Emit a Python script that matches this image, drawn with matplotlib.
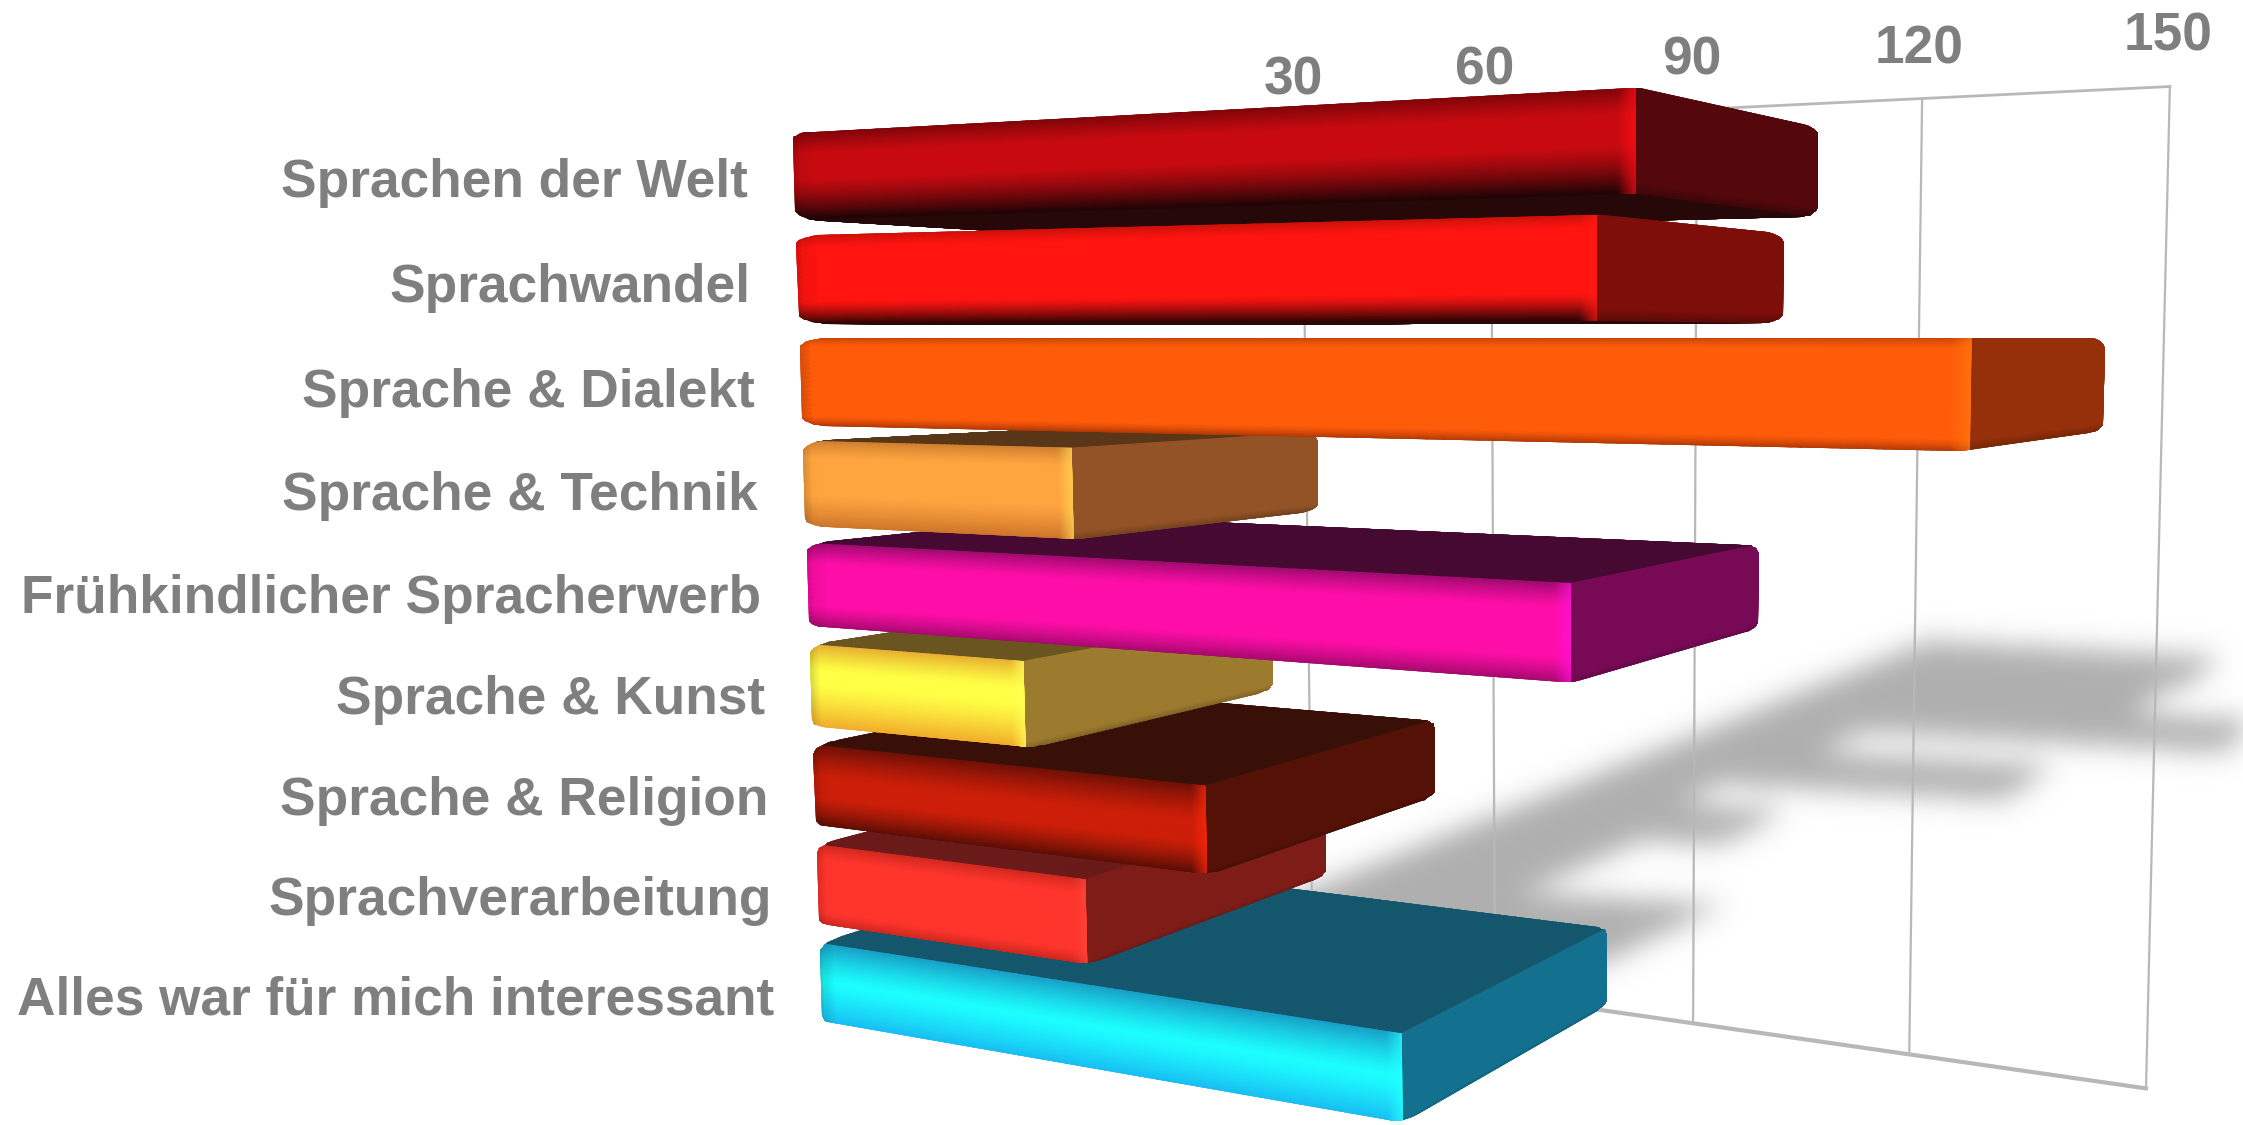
import numpy as np
import matplotlib
matplotlib.use("Agg")
import matplotlib.pyplot as plt
from matplotlib.patches import Polygon

# Datos
categorias = ["Sprachen der Welt", "Sprachwandel", "Sprache & Dialekt", "Sprache & Technik",
              "Frühkindlicher Spracherwerb", "Sprache & Kunst", "Sprache & Religion",
              "Sprachverarbeitung", "Alles war für mich interessant"]
valores = [111.8, 107.5, 146.6, 40.4, 104.5, 32.6, 58.3, 41, 83.8]
ticks = [30, 60, 90, 120, 150]

# Colores de cada barra
c_frente = ["#C80A10", "#FF1410", "#FF5C0A", "#FFA540", "#FF0DA8", "#FFFF45", "#CC1E08", "#FF352C", "#1CFFFF"]
c_lado = ["#55080C", "#7E0E0A", "#95300A", "#935326", "#780A55", "#9C7A2E", "#541206", "#7E1C18", "#14708F"]
c_tapa = ["#260808", "#2A0808", "#A03A06", "#5A3618", "#460A32", "#6A5420", "#381008", "#6A1A18", "#14566C"]
c_borde_sup = ["#6E0408", "#C01008", "#C84406", "#D08030", "#A00A70", "#E8B030", "#701006", "#D02820", "#18A0C8"]
c_borde_inf = ["#200405", "#300404", "#A83404", "#C87028", "#900860", "#F0A028", "#400A04", "#B02018", "#18B0F0"]
ancho_sup = [0.30, 0.16, 0.10, 0.20, 0.25, 0.30, 0.38, 0.18, 0.45]
ancho_inf = [0.45, 0.25, 0.12, 0.40, 0.30, 0.55, 0.40, 0.22, 0.55]

# Camara: puntos de fuga (en pixeles) y escalas
VX = (-3060.0, 340.0)
VC = (1600.0, 24000.0)
VD = (2760.0, 338.0)
ORIGEN = (798.0, 131.0)
ESC_V = -0.001595
ESC_C = 0.00442
ESC_D = 0.152
D_PARED = 0.203 / ESC_D
ALTO = 0.86
INICIO_C = -0.02
INICIO_V = -2.5
FIN_D = 1.11
C_ARRIBA = -0.33
C_ABAJO = 9.19

# Sombra sobre la pared: altura (pixeles) de cada categoria
SOMBRA_Y = [640, 667, 695, 722, 745, 775, 797, 827, 885, 950]
SOMBRA_C = [0, 1, 2, 3, 4, 5, 6, 7, 8, 9]


def proyectar(v, c, d):
    """Pasa (valor, categoria, profundidad) a pixeles de la imagen."""
    a = np.asarray(v, dtype=float) * ESC_V
    b = np.asarray(c, dtype=float) * ESC_C
    e = np.asarray(d, dtype=float) * ESC_D
    w = 1 + a + b + e
    x = (a * VX[0] + b * VC[0] + e * VD[0] + ORIGEN[0]) / w
    y = (a * VX[1] + b * VC[1] + e * VD[1] + ORIGEN[1]) / w
    return x, y


def rgb(h):
    return np.array(matplotlib.colors.to_rgb(h))


def casco(puntos):
    # envolvente convexa (cadena monotona)
    pts = sorted(set(map(tuple, np.round(puntos, 2))))
    def cruz(o, a, b):
        return (a[0] - o[0]) * (b[1] - o[1]) - (a[1] - o[1]) * (b[0] - o[0])
    inf, sup = [], []
    for p in pts:
        while len(inf) > 1 and cruz(inf[-2], inf[-1], p) <= 0:
            inf.pop()
        inf.append(p)
    for p in reversed(pts):
        while len(sup) > 1 and cruz(sup[-2], sup[-1], p) <= 0:
            sup.pop()
        sup.append(p)
    return np.array(inf[:-1] + sup[:-1])


def silueta(val, c0, c1):
    # caja con esquinas redondeadas, proyectada
    rv, rc, rd = 2.0, 0.10, 0.09
    ang = np.linspace(0, np.pi / 2, 7)
    lista = []
    for sv in (0, 1):
        for sc in (0, 1):
            for sd in (0, 1):
                for a1 in ang:
                    for a2 in ang:
                        dv = np.cos(a1) * np.cos(a2) * (1 if sv else -1)
                        dc = np.sin(a1) * np.cos(a2) * (1 if sc else -1)
                        dd = np.sin(a2) * (1 if sd else -1)
                        v = (val - rv if sv else INICIO_V + rv) + rv * dv
                        c = (c1 - rc if sc else c0 + rc) + rc * dc
                        d = (FIN_D - rd if sd else rd) + rd * dd
                        lista.append(proyectar(v, c, d))
    return casco(np.array(lista, dtype=float))


def malla(ax, x, y, colores, clip, z):
    m = ax.pcolormesh(x, y, np.clip(colores, 0, 1), shading="gouraud", zorder=z)
    m.set_clip_path(clip)


def dibujar_barra(ax, i, z):
    val = valores[i]
    c0 = i + INICIO_C
    c1 = c0 + ALTO
    clip = Polygon(silueta(val, c0, c1), closed=True, transform=ax.transData, fc="none", ec="none")
    ax.add_patch(clip)

    s = 1 - np.linspace(0, 1, 90) ** 2
    s = s[::-1]
    t = np.linspace(0, 1, 70)
    S, T = np.meshgrid(s, t)
    V = INICIO_V + (val - INICIO_V) * S

    # tapa superior o inferior, la que se vea
    x0, y0 = proyectar(val, c0, 0)
    x1, y1 = proyectar(val, c0, 1)
    x2, y2 = proyectar(val, c1, 0)
    x3, y3 = proyectar(val, c1, 1)
    base = rgb(c_tapa[i])
    if y1 < y0:
        X, Y = proyectar(V, c0 + 0 * S, FIN_D * T)
        malla(ax, X, Y, base * np.ones(S.shape + (3,)), clip, z)
    if y3 > y2:
        X, Y = proyectar(V, c1 + 0 * S, FIN_D * T)
        malla(ax, X, Y, base * np.ones(S.shape + (3,)), clip, z)

    # lado derecho
    X, Y = proyectar(val + 0 * S, c0 + ALTO * T, FIN_D * S)
    col = rgb(c_lado[i]) * (1 - 0.25 * np.clip((T - 0.9) / 0.1, 0, 1))[..., None]
    malla(ax, X, Y, col, clip, z + 0.1)

    # frente con degradado
    X, Y = proyectar(V, c0 + ALTO * T, 0 * S)
    b_sup = (np.clip(1 - T / ancho_sup[i], 0, 1) ** 1.3)[..., None]
    b_inf = (np.clip(1 - (1 - T) / ancho_inf[i], 0, 1) ** 1.3)[..., None]
    f = rgb(c_frente[i])
    col = f * (1 - b_sup - b_inf) + rgb(c_borde_sup[i]) * b_sup + rgb(c_borde_inf[i]) * b_inf
    dist = val - V
    hl = (0.7 * np.clip(1 - dist / 2.0, 0, 1))[..., None]
    col = col * (1 - hl) + np.clip(f * 1.3, 0, 1) * hl
    izq = (0.3 * np.clip(1 - (V - INICIO_V) / 3.0, 0, 1))[..., None]
    col = col * (1 - izq)
    malla(ax, X, Y, col, clip, z + 0.2)


def sombra(ax):
    # sombra de las barras sobre la pared, mascara dura y luego desenfoque
    paso = 3.0
    xs = np.arange(800, 2500, paso)
    ys = np.arange(500, 1200, paso)
    X, Y = np.meshgrid(xs, ys)
    lomo = 1934.0 - 2.478 * (Y - 638.0)
    c = np.interp(Y - 0.05 * (X - lomo), SOMBRA_Y, SOMBRA_C, left=-2, right=11)
    v = (X - lomo) / (3.0 + 0.3 * c)

    mascara = np.zeros_like(X)
    for i, val in enumerate(valores):
        dentro = (v >= 0) & (v <= val) & (c >= i - 0.05) & (c <= i + 1.05)
        mascara[dentro] = 1.0

    n = np.arange(-15, 16)
    nucleo = np.exp(-0.5 * (n / 4.5) ** 2)
    nucleo = nucleo / nucleo.sum()
    mascara = np.apply_along_axis(lambda f: np.convolve(f, nucleo, mode="same"), 0, mascara)
    mascara = np.apply_along_axis(lambda f: np.convolve(f, nucleo, mode="same"), 1, mascara)

    img = np.zeros(X.shape + (4,))
    img[..., :3] = 0.69
    img[..., 3] = mascara
    ax.imshow(img, extent=(xs[0], xs[-1], ys[-1], ys[0]), interpolation="bilinear", aspect="auto", zorder=1)


def graficar():
    fig = plt.figure(figsize=(22.43, 11.25), dpi=100)
    ax = fig.add_axes([0, 0, 1, 1])
    sombra(ax)
    ax.set_xlim(0, 2243)
    ax.set_ylim(1125, 0)
    ax.axis("off")

    gris = "#B8B8B8"
    for tk in ticks:
        x, y = proyectar([tk, tk], [C_ARRIBA, C_ABAJO], D_PARED)
        ax.plot(x, y, color=gris, lw=1.6, zorder=2)
        xt, yt = proyectar(tk, C_ARRIBA - 0.07, D_PARED)
        ax.text(xt - 10 + tk * 0.055, yt - 42, str(tk), color="#7F7F7F", fontsize=38.3, fontweight="bold",
                family="Liberation Sans", ha="center", va="center", zorder=20)
    x, y = proyectar([0, ticks[-1]], [C_ARRIBA, C_ARRIBA], D_PARED)
    ax.plot(x, y, color=gris, lw=2, zorder=2)
    x, y = proyectar([0, ticks[-1]], [C_ABAJO, C_ABAJO], D_PARED)
    ax.plot(x, y, color=gris, lw=3, zorder=2)

    orden = sorted(range(len(valores)), key=lambda i: -abs(i - 2.2))
    for n, i in enumerate(orden):
        dibujar_barra(ax, i, 3 + n)

    for i, nombre in enumerate(categorias):
        x, y = proyectar(0, i + 0.41, 0)
        ax.text(x - 52, y + 9 + 0.6 * i, nombre, color="#7F7F7F", fontsize=38.3, fontweight="bold",
                family="Liberation Sans", ha="right", va="center", zorder=20)

    fig.savefig("out.png", dpi=100)


if __name__ == "__main__":
    graficar()
